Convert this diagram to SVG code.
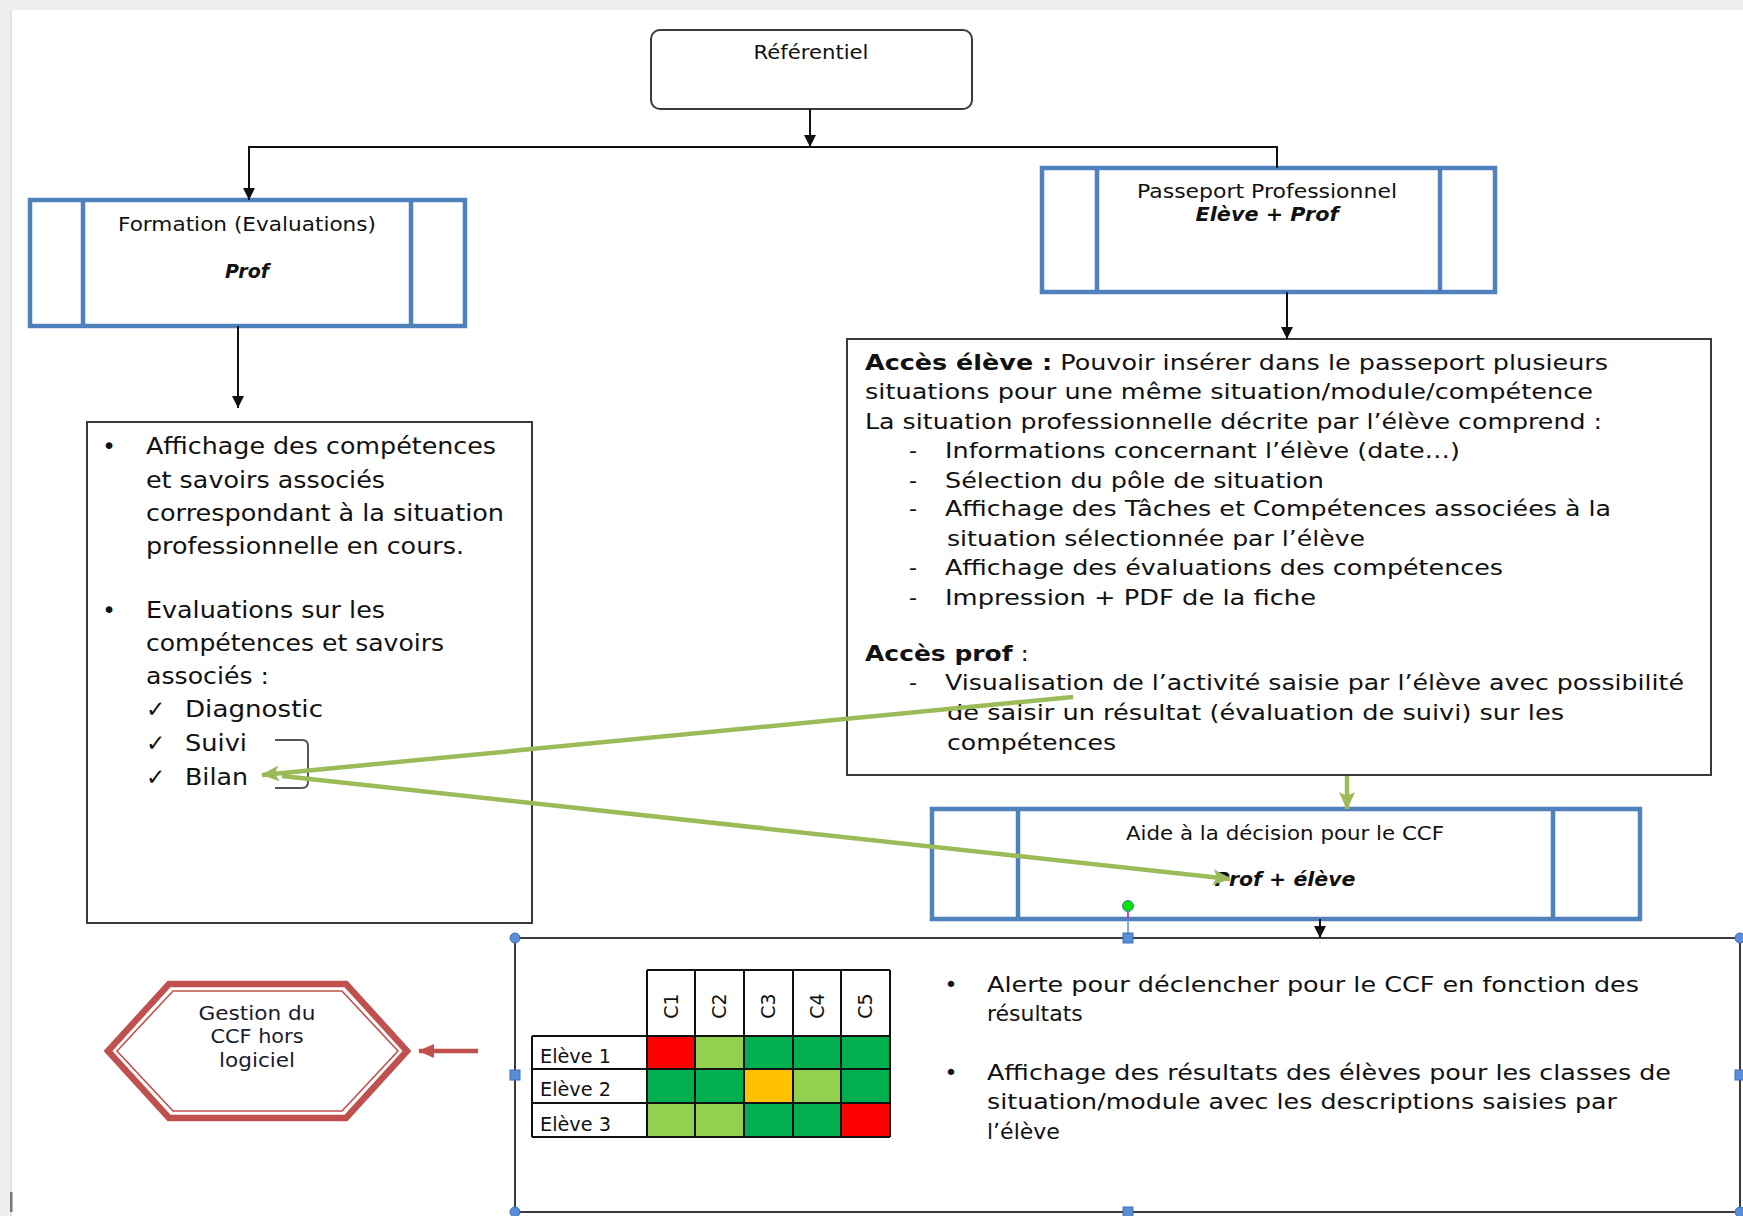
<svg xmlns="http://www.w3.org/2000/svg" width="1743" height="1216" viewBox="0 0 1743 1216">
<style>
  text { font-family: "DejaVu Sans", "Liberation Sans", sans-serif; fill: #111; }
  .lbl { font-size: 19px; }
  .bi { font-weight: bold; font-style: italic; }
  .b { font-weight: bold; }
  .lt { font-size: 23px; }
  .rt { font-size: 22px; }
  .bt { font-size: 22px; }
  .tb { font-size: 19px; }
  .hx { font-size: 19px; fill: #1a1a2e; }
  .blue { fill: #fff; stroke: #4f81bd; stroke-width: 4.5; }
  .bline { stroke: #4f81bd; stroke-width: 4.5; }
  .frame { fill: #fff; stroke: #3a3a3a; stroke-width: 2; }
  .conn { fill: none; stroke: #111; stroke-width: 2; }
  .green { fill: none; stroke: #9bbb59; stroke-width: 4.5; }
  .cell { stroke: #111; stroke-width: 2; }
  .handle { fill: #5a8fd8; stroke: #3d6fb5; stroke-width: 1; }
</style>
<defs>
  <marker id="ab" markerUnits="userSpaceOnUse" markerWidth="12" markerHeight="12" refX="12" refY="6" orient="auto">
    <path d="M0,0 L12,6 L0,12 z" fill="#111"/>
  </marker>
  <marker id="ag" markerUnits="userSpaceOnUse" markerWidth="18" markerHeight="16" refX="17" refY="8" orient="auto">
    <path d="M0,0 L18,8 L0,16 L4,8 z" fill="#9bbb59"/>
  </marker>
  <marker id="ar" markerUnits="userSpaceOnUse" markerWidth="16" markerHeight="14" refX="15" refY="7" orient="auto">
    <path d="M0,0 L16,7 L0,14 z" fill="#c0504d"/>
  </marker>
</defs>

<!-- page -->
<rect x="0" y="0" width="1743" height="1216" fill="#efefef"/>
<rect x="11" y="10" width="1732" height="1206" fill="#ffffff"/>
<line x1="11" y1="10" x2="11" y2="1216" stroke="#dcdcdc" stroke-width="1.5"/>
<rect x="10" y="1192" width="2.5" height="20" fill="#777"/>

<g id="referentiel">
  <rect x="651" y="30" width="321" height="79" rx="9" class="frame" stroke="#444" stroke-width="1.8"/>
  <text class="lbl" x="811" y="59" text-anchor="middle" textLength="115" lengthAdjust="spacingAndGlyphs">Référentiel</text>
</g>

<g id="formation">
  <rect x="30" y="200" width="435" height="126" class="blue"/>
  <line x1="83" y1="200" x2="83" y2="326" class="bline"/>
  <line x1="411" y1="200" x2="411" y2="326" class="bline"/>
  <text class="lbl" x="247" y="231" text-anchor="middle" textLength="258" lengthAdjust="spacingAndGlyphs">Formation (Evaluations)</text>
  <text class="lbl bi" x="247" y="278" text-anchor="middle">Prof</text>
</g>

<g id="passeport">
  <rect x="1042" y="168" width="453" height="124" class="blue"/>
  <line x1="1097" y1="168" x2="1097" y2="292" class="bline"/>
  <line x1="1440" y1="168" x2="1440" y2="292" class="bline"/>
  <text class="lbl" x="1267" y="198" text-anchor="middle" textLength="260" lengthAdjust="spacingAndGlyphs">Passeport Professionnel</text>
  <text class="lbl bi" x="1267" y="221" text-anchor="middle" textLength="143" lengthAdjust="spacingAndGlyphs">Elève + Prof</text>
</g>

<g id="formation-detail">
  <rect x="87" y="422" width="445" height="501" class="frame"/>
  <text class="lt" x="109" y="454" text-anchor="middle">•</text>
  <text class="lt" x="146" y="454" textLength="350" lengthAdjust="spacingAndGlyphs">Affichage des compétences</text>
  <text class="lt" x="146" y="488" textLength="239" lengthAdjust="spacingAndGlyphs">et savoirs associés</text>
  <text class="lt" x="146" y="521" textLength="358" lengthAdjust="spacingAndGlyphs">correspondant à la situation</text>
  <text class="lt" x="146" y="554" textLength="318" lengthAdjust="spacingAndGlyphs">professionnelle en cours.</text>
  <text class="lt" x="109" y="618" text-anchor="middle">•</text>
  <text class="lt" x="146" y="618" textLength="239" lengthAdjust="spacingAndGlyphs">Evaluations sur les</text>
  <text class="lt" x="146" y="651" textLength="298" lengthAdjust="spacingAndGlyphs">compétences et savoirs</text>
  <text class="lt" x="146" y="684" textLength="123" lengthAdjust="spacingAndGlyphs">associés :</text>
  <text class="lt" x="146" y="717">✓</text>
  <text class="lt" x="185" y="717" textLength="138" lengthAdjust="spacingAndGlyphs">Diagnostic</text>
  <text class="lt" x="146" y="751">✓</text>
  <text class="lt" x="185" y="751" textLength="62" lengthAdjust="spacingAndGlyphs">Suivi</text>
  <text class="lt" x="146" y="785">✓</text>
  <text class="lt" x="185" y="785" textLength="63" lengthAdjust="spacingAndGlyphs">Bilan</text>
  <path d="M275,740 L302,740 Q308,740 308,746 L308,782 Q308,788 302,788 L275,788" fill="none" stroke="#555" stroke-width="2"/>
</g>

<g id="passeport-detail">
  <rect x="847" y="339" width="864" height="436" class="frame"/>
  <text class="rt" x="865" y="370" textLength="743" lengthAdjust="spacingAndGlyphs"><tspan class="b">Accès élève :</tspan> Pouvoir insérer dans le passeport plusieurs</text>
  <text class="rt" x="865" y="399" textLength="728" lengthAdjust="spacingAndGlyphs">situations pour une même situation/module/compétence</text>
  <text class="rt" x="865" y="429" textLength="737" lengthAdjust="spacingAndGlyphs">La situation professionnelle décrite par l’élève comprend :</text>
  <text class="rt" x="909" y="458">-</text>
  <text class="rt" x="945" y="458" textLength="515" lengthAdjust="spacingAndGlyphs">Informations concernant l’élève (date…)</text>
  <text class="rt" x="909" y="488">-</text>
  <text class="rt" x="945" y="488" textLength="379" lengthAdjust="spacingAndGlyphs">Sélection du pôle de situation</text>
  <text class="rt" x="909" y="516">-</text>
  <text class="rt" x="945" y="516" textLength="666" lengthAdjust="spacingAndGlyphs">Affichage des Tâches et Compétences associées à la</text>
  <text class="rt" x="947" y="546" textLength="418" lengthAdjust="spacingAndGlyphs">situation sélectionnée par l’élève</text>
  <text class="rt" x="909" y="575">-</text>
  <text class="rt" x="945" y="575" textLength="558" lengthAdjust="spacingAndGlyphs">Affichage des évaluations des compétences</text>
  <text class="rt" x="909" y="605">-</text>
  <text class="rt" x="945" y="605" textLength="371" lengthAdjust="spacingAndGlyphs">Impression + PDF de la fiche</text>
  <text class="rt" x="865" y="661" textLength="164" lengthAdjust="spacingAndGlyphs"><tspan class="b">Accès prof</tspan> :</text>
  <text class="rt" x="909" y="690">-</text>
  <text class="rt" x="945" y="690" textLength="739" lengthAdjust="spacingAndGlyphs">Visualisation de l’activité saisie par l’élève avec possibilité</text>
  <text class="rt" x="947" y="720" textLength="617" lengthAdjust="spacingAndGlyphs">de saisir un résultat (évaluation de suivi) sur les</text>
  <text class="rt" x="947" y="750" textLength="169" lengthAdjust="spacingAndGlyphs">compétences</text>
</g>

<g id="aide-ccf">
  <rect x="932" y="809" width="708" height="110" class="blue"/>
  <line x1="1018" y1="809" x2="1018" y2="919" class="bline"/>
  <line x1="1553" y1="809" x2="1553" y2="919" class="bline"/>
  <text class="lbl" x="1285" y="840" text-anchor="middle" textLength="318" lengthAdjust="spacingAndGlyphs">Aide à la décision pour le CCF</text>
  <text class="lbl bi" x="1285" y="886" text-anchor="middle" textLength="141" lengthAdjust="spacingAndGlyphs">Prof + élève</text>
</g>

<g id="resultats">
  <rect x="515" y="938" width="1225" height="274" fill="#fff" stroke="#3a3a3a" stroke-width="2"/>
  <g id="tableau">
    <rect x="647" y="1036" width="48" height="33" fill="#ff0000"/>
    <rect x="695" y="1036" width="49" height="33" fill="#92d050"/>
    <rect x="744" y="1036" width="49" height="33" fill="#00b050"/>
    <rect x="793" y="1036" width="48" height="33" fill="#00b050"/>
    <rect x="841" y="1036" width="49" height="33" fill="#00b050"/>
    <rect x="647" y="1069" width="48" height="34" fill="#00b050"/>
    <rect x="695" y="1069" width="49" height="34" fill="#00b050"/>
    <rect x="744" y="1069" width="49" height="34" fill="#ffc000"/>
    <rect x="793" y="1069" width="48" height="34" fill="#92d050"/>
    <rect x="841" y="1069" width="49" height="34" fill="#00b050"/>
    <rect x="647" y="1103" width="48" height="34" fill="#92d050"/>
    <rect x="695" y="1103" width="49" height="34" fill="#92d050"/>
    <rect x="744" y="1103" width="49" height="34" fill="#00b050"/>
    <rect x="793" y="1103" width="48" height="34" fill="#00b050"/>
    <rect x="841" y="1103" width="49" height="34" fill="#ff0000"/>
    <path class="cell" fill="none" d="M647,970 H890 M532,1036 H890 M532,1069 H890 M532,1103 H890 M532,1137 H890 M532,1036 V1137 M647,970 V1137 M695,970 V1137 M744,970 V1137 M793,970 V1137 M841,970 V1137 M890,970 V1137"/>
    <text class="tb" transform="translate(671,1006) rotate(-90)" y="7" text-anchor="middle">C1</text>
    <text class="tb" transform="translate(719,1006) rotate(-90)" y="7" text-anchor="middle">C2</text>
    <text class="tb" transform="translate(768,1006) rotate(-90)" y="7" text-anchor="middle">C3</text>
    <text class="tb" transform="translate(817,1006) rotate(-90)" y="7" text-anchor="middle">C4</text>
    <text class="tb" transform="translate(865,1006) rotate(-90)" y="7" text-anchor="middle">C5</text>
    <text class="tb" x="540" y="1063" textLength="71" lengthAdjust="spacingAndGlyphs">Elève 1</text>
    <text class="tb" x="540" y="1096" textLength="71" lengthAdjust="spacingAndGlyphs">Elève 2</text>
    <text class="tb" x="540" y="1131" textLength="71" lengthAdjust="spacingAndGlyphs">Elève 3</text>
  </g>
  <text class="bt" x="951" y="992" text-anchor="middle">•</text>
  <text class="bt" x="987" y="992" textLength="652" lengthAdjust="spacingAndGlyphs">Alerte pour déclencher pour le CCF en fonction des</text>
  <text class="bt" x="987" y="1021">résultats</text>
  <text class="bt" x="951" y="1080" text-anchor="middle">•</text>
  <text class="bt" x="987" y="1080" textLength="684" lengthAdjust="spacingAndGlyphs">Affichage des résultats des élèves pour les classes de</text>
  <text class="bt" x="987" y="1109" textLength="630" lengthAdjust="spacingAndGlyphs">situation/module avec les descriptions saisies par</text>
  <text class="bt" x="987" y="1139">l’élève</text>
  <!-- selection handles -->
  <line x1="1128" y1="911" x2="1128" y2="933" stroke="#5a8fd8" stroke-width="1.5"/>
  <line x1="1128" y1="912" x2="1128" y2="919" stroke="#d02ad0" stroke-width="1.5"/>
  <circle cx="1128" cy="906" r="5.5" fill="#00e600" stroke="#4a7ebb" stroke-width="1"/>
  <circle cx="515" cy="938" r="5" class="handle"/>
  <circle cx="1740" cy="938" r="5" class="handle"/>
  <circle cx="515" cy="1212" r="5" class="handle"/>
  <circle cx="1740" cy="1212" r="5" class="handle"/>
  <rect x="1123" y="933" width="10" height="10" class="handle"/>
  <rect x="510" y="1070" width="10" height="10" class="handle"/>
  <rect x="1735" y="1070" width="10" height="10" class="handle"/>
  <rect x="1123" y="1207" width="10" height="10" class="handle"/>
</g>

<g id="gestion-ccf">
  <polygon points="108,1051 169,984 346,984 407,1051 346,1118 169,1118" fill="#fff" stroke="#c0504d" stroke-width="6.5"/>
  <polygon points="117,1051 173,991 342,991 398,1051 342,1111 173,1111" fill="none" stroke="#c0504d" stroke-width="1.6"/>
  <text class="hx" x="257" y="1020" text-anchor="middle" textLength="117" lengthAdjust="spacingAndGlyphs">Gestion du</text>
  <text class="hx" x="257" y="1043" text-anchor="middle" textLength="93" lengthAdjust="spacingAndGlyphs">CCF hors</text>
  <text class="hx" x="257" y="1067" text-anchor="middle" textLength="76" lengthAdjust="spacingAndGlyphs">logiciel</text>
</g>

<g id="connectors">
  <line x1="810" y1="109" x2="810" y2="147" class="conn" marker-end="url(#ab)"/>
  <path d="M1277,168 V147 H249 V200" class="conn" marker-end="url(#ab)"/>
  <line x1="238" y1="326" x2="238" y2="408" class="conn" marker-end="url(#ab)"/>
  <line x1="1287" y1="292" x2="1287" y2="339" class="conn" marker-end="url(#ab)"/>
  <line x1="1320" y1="919" x2="1320" y2="938" class="conn" marker-end="url(#ab)"/>
  <line x1="1347" y1="776" x2="1347" y2="809" class="green" marker-end="url(#ag)"/>
  <line x1="1073" y1="697" x2="262" y2="775" class="green" marker-end="url(#ag)"/>
  <line x1="282" y1="776" x2="1230" y2="879" class="green" marker-end="url(#ag)"/>
  <line x1="478" y1="1051" x2="419" y2="1051" stroke="#c0504d" stroke-width="4.5" marker-end="url(#ar)"/>
</g>
</svg>
